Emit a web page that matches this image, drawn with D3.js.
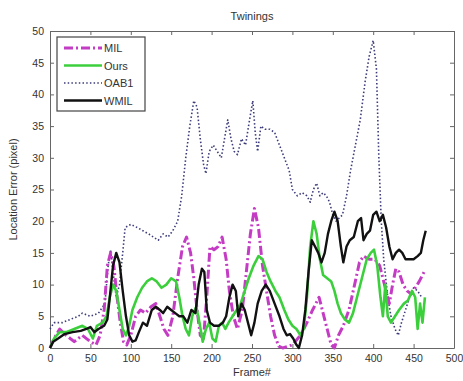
<!DOCTYPE html>
<html>
<head>
<meta charset="utf-8">
<script src="https://cdn.jsdelivr.net/npm/d3@7"></script>
<style>
  body { margin: 0; background: #fff; }
  svg { display: block; font-family: "Liberation Sans", Arial, sans-serif; }
</style>
</head>
<body>
<div id="chart"></div>
<script>
// values: [frame, location error]
const milData = [[0,0],[5,1.5],[12,3],[20,2],[30,1],[40,2],[50,1],[57,0.5],[62,2],[67,6],[71,13],[75,15],[79,13],[83,8],[87,4],[91,1],[95,0.5],[100,2],[106,5],[112,6],[118,5.5],[125,6.5],[131,7],[136,5],[141,3],[146,2],[152,5],[158,11],[164,16],[169,17.5],[174,15],[178,11],[182,6],[186,2],[190,1.5],[194,8],[198,16],[203,15.5],[208,16],[213,17.5],[218,14],[222,9],[227,5],[232,3],[238,6],[243,12],[248,18],[253,22],[258,19],[263,13],[268,9],[273,5],[278,2],[283,0.3],[288,0],[300,0.5],[310,2],[318,4],[325,6],[333,8],[338,5.5],[343,3],[348,0.5],[352,0],[357,2],[363,3.5],[370,6],[377,10],[383,13.5],[388,14.5],[395,14],[402,14],[408,13],[412,11],[416,9],[420,7],[424,10],[428,12.5],[432,12],[437,10],[442,9],[447,8.5],[452,9.5],[457,10.5],[463,12]];

const oursData = [[0,0],[5,1.5],[12,2.5],[20,2.5],[30,3],[40,3.5],[47,3],[53,1.5],[58,3.5],[65,4],[70,5],[74,8],[78,10],[82,9],[86,6],[90,3],[94,2],[98,3.5],[102,6],[108,8],[114,9.5],[120,10.5],[126,11],[132,10.5],[138,9.5],[144,10],[150,11],[156,10.5],[160,8],[164,5],[168,3],[172,2],[176,5],[181,6.5],[185,4],[189,1],[193,3],[197,4],[201,1.5],[205,1],[209,3.5],[213,4],[217,3],[221,4],[226,5],[231,6],[236,7],[241,9],[246,11],[252,13],[258,14.5],[263,14],[268,12],[273,10.5],[279,9],[284,8],[290,6],[295,4.5],[300,3.5],[305,3],[310,2],[314,3],[318,8],[322,16],[326,20],[330,18],[334,14],[338,11.5],[343,11],[348,10.5],[352,9],[356,7],[360,5.5],[365,4.5],[370,4],[375,5.5],[380,8],[386,11],[392,14],[397,15],[401,15.5],[405,13],[409,8],[412,5],[415,10],[418,5],[422,4],[427,5],[432,6],[438,7],[443,7.5],[448,9],[452,8],[455,3],[458,7],[461,4],[464,8]];

const oab1Data = [[0,3],[5,4],[15,4],[25,4.5],[35,5],[40,5.5],[50,5],[60,5.5],[68,7],[72,13],[75,15.5],[78,12],[82,8],[86,10],[90,15],[93,19],[100,19.5],[108,19],[115,18.5],[122,18],[128,17.5],[134,17],[140,18],[146,17.5],[152,18.5],[158,20],[163,24],[168,30],[173,35],[178,39],[182,38],[186,33],[190,29],[193,27.5],[197,31],[202,32],[207,31],[212,30],[216,33],[220,36],[224,33],[228,31],[232,30.5],[237,33],[242,32],[247,36],[251,39],[254,34],[257,31],[261,35],[266,34.5],[272,34.5],[278,34],[284,32],[290,30],[296,28],[300,25],[306,24],[312,24.5],[318,24],[322,23],[326,25],[330,26],[334,24],[338,24.5],[342,24],[346,23],[350,21],[354,20],[358,20.5],[362,21],[367,24],[372,28],[378,32],[384,36],[390,42],[395,46],[400,48.5],[404,44],[407,30],[410,20],[413,14],[418,8],[422,5],[427,3],[431,2],[435,4],[440,6],[445,8],[450,9.5],[455,9],[460,8]];

const wmilData = [[0,0],[4,1],[10,1.5],[18,2.2],[28,2.5],[38,2.7],[45,3],[50,3.3],[55,2.5],[60,3],[67,3.5],[71,4.5],[74,8],[78,13],[82,15],[86,13.5],[90,9],[94,5],[98,2],[102,1],[106,1.2],[110,2.5],[115,4],[120,3.5],[126,6],[131,6.5],[136,6],[140,5.5],[145,6.5],[150,6],[155,5.5],[160,5],[165,5],[170,4],[175,6],[180,5.5],[184,10],[188,12.5],[191,12],[194,6],[198,4],[203,3.5],[209,3.5],[214,4],[218,5],[222,8],[226,10],[230,9],[233,5],[237,7],[241,6],[245,4],[249,2],[253,4],[257,7],[262,9],[267,10],[272,9],[278,7],[284,5],[289,3],[293,2],[297,2.2],[301,1.5],[305,0.5],[308,0],[312,2],[316,6],[320,12],[324,17],[328,16],[332,15],[336,13.5],[340,15],[344,18],[348,20],[352,21.5],[356,20],[360,16],[363,13.5],[367,16],[371,17],[376,17.5],[381,20],[385,20.5],[388,17],[392,18],[396,18.5],[400,21],[404,21.5],[408,20],[412,21],[416,19],[420,16],[424,14],[428,15],[432,15.5],[436,15],[440,14],[445,14],[450,14],[455,14.5],[459,15],[462,17],[465,18.5]];

const seriesNames = ["MIL", "Ours", "OAB1", "WMIL"];
const xTicks = [0, 50, 100, 150, 200, 250, 300, 350, 400, 450, 500];
const yTicks = [0, 5, 10, 15, 20, 25, 30, 35, 40, 45, 50];

const width = 463, height = 381;
const margin = {left: 50, right: 9, top: 31, bottom: 33};
const w = width - margin.left - margin.right;
const h = height - margin.top - margin.bottom;

const svg = d3.select("#chart").append("svg")
  .attr("width", width)
  .attr("height", height);

const g = svg.append("g")
  .attr("transform", "translate(" + margin.left + "," + margin.top + ")");

const x = d3.scaleLinear().domain([0, 500]).range([0, w]);
const y = d3.scaleLinear().domain([0, 50]).range([h, 0]);

// axes, matlab style: ticks pointing inwards on all four sides
function styleAxis(sel) {
  sel.select(".domain").attr("stroke", "#666");
  sel.selectAll(".tick line").attr("stroke", "#666");
  sel.selectAll(".tick text").attr("fill", "#333").style("font-size", "10.5px");
}

g.append("g")
  .attr("transform", "translate(0," + h + ")")
  .call(d3.axisBottom(x).tickValues(xTicks).tickSize(-4).tickPadding(7).tickSizeOuter(0))
  .call(styleAxis);
g.append("g")
  .call(d3.axisTop(x).tickValues(xTicks).tickSize(-4).tickFormat("").tickSizeOuter(0))
  .call(styleAxis);
g.append("g")
  .call(d3.axisLeft(y).tickValues(yTicks).tickSize(-4).tickPadding(6).tickSizeOuter(0))
  .call(styleAxis);
g.append("g")
  .attr("transform", "translate(" + w + ",0)")
  .call(d3.axisRight(y).tickValues(yTicks).tickSize(-4).tickFormat("").tickSizeOuter(0))
  .call(styleAxis);

const line = d3.line()
  .x(d => x(d[0]))
  .y(d => y(d[1]));

const styles = [
  {data: oab1Data, color: "#3c3c7a", width: 1.6, dash: "1.5,2.2"},
  {data: milData, color: "#c43cc4", width: 3, dash: "9,3,2,3"},
  {data: oursData, color: "#3ccf3c", width: 2.6, dash: null},
  {data: wmilData, color: "#111", width: 2.4, dash: null}
];

styles.forEach(s => {
  g.append("path")
    .datum(s.data)
    .attr("fill", "none")
    .attr("stroke", s.color)
    .attr("stroke-width", s.width)
    .attr("stroke-dasharray", s.dash)
    .attr("stroke-linejoin", "round")
    .attr("d", line);
});

// title and labels
svg.append("text")
  .attr("x", margin.left + w / 2).attr("y", 20)
  .attr("text-anchor", "middle")
  .style("font-size", "11px").attr("fill", "#333")
  .text("Twinings");
svg.append("text")
  .attr("x", margin.left + w / 2).attr("y", 376)
  .attr("text-anchor", "middle")
  .style("font-size", "11px").attr("fill", "#333")
  .text("Frame#");
svg.append("text")
  .attr("transform", "translate(17," + (margin.top + h / 2) + ")rotate(-90)")
  .attr("text-anchor", "middle")
  .style("font-size", "11px").attr("fill", "#333")
  .text("Location Error (pixel)");

// legend
const legend = svg.append("g").attr("transform", "translate(57,37)");
legend.append("rect")
  .attr("width", 88).attr("height", 74)
  .attr("fill", "#fff").attr("stroke", "#444").attr("stroke-width", 1.2);

const legendStyles = [styles[1], styles[2], styles[0], styles[3]];
seriesNames.forEach((name, i) => {
  const s = legendStyles[i];
  const ly = 11 + i * 17.5;
  legend.append("line")
    .attr("x1", 7).attr("x2", 45).attr("y1", ly).attr("y2", ly)
    .attr("stroke", s.color).attr("stroke-width", s.width)
    .attr("stroke-dasharray", s.dash);
  legend.append("text")
    .attr("x", 47).attr("y", ly + 4)
    .style("font-size", "11px").attr("fill", "#333")
    .text(name);
});
</script>
</body>
</html>
